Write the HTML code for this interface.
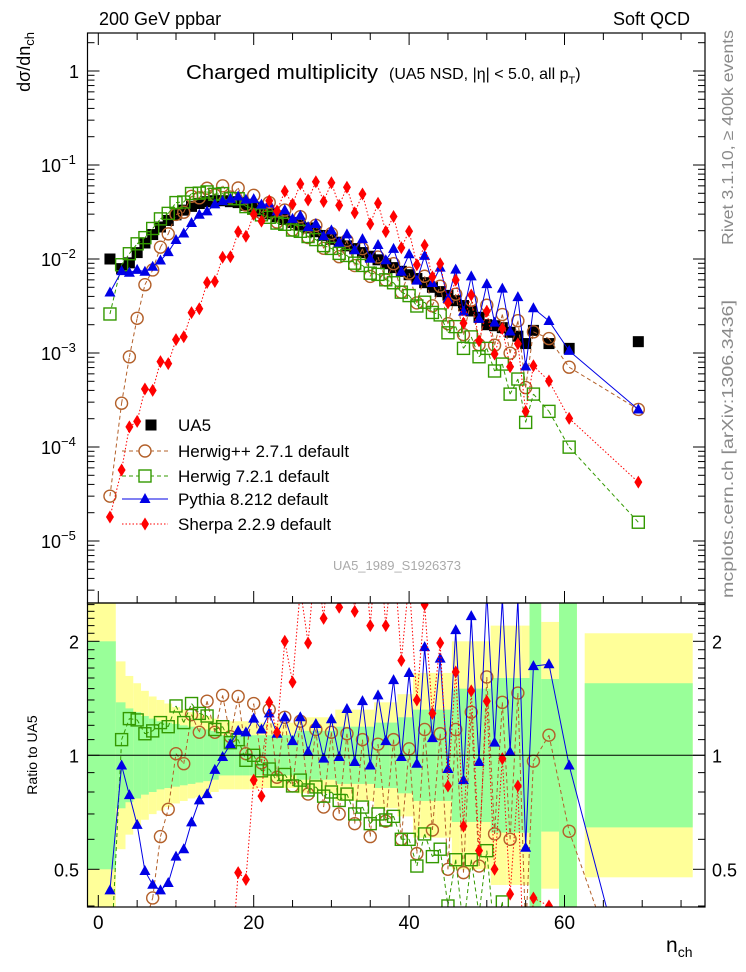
<!DOCTYPE html>
<html><head><meta charset="utf-8"><style>
html,body{margin:0;padding:0;background:#fff;width:746px;height:972px;overflow:hidden;}
svg{display:block;font-family:"Liberation Sans",sans-serif;}
</style></head><body>
<svg id="chart" width="746" height="972" viewBox="0 0 746 972" xmlns="http://www.w3.org/2000/svg">
<defs>
<clipPath id="clipMain"><rect x="87.5" y="33" width="617.5" height="570"/></clipPath>
<clipPath id="clipRatio"><rect x="87.5" y="603" width="617.5" height="304"/></clipPath>
</defs>
<g id="bands" clip-path="url(#clipRatio)"></g>
<g id="ticks"></g>
<g id="marksRatio" clip-path="url(#clipRatio)"></g>
<g id="marksMain" clip-path="url(#clipMain)"></g>
<rect x="87.5" y="33" width="617.5" height="570" fill="none" stroke="#000" stroke-width="1.2"/>
<rect x="87.5" y="603" width="617.5" height="304" fill="none" stroke="#000" stroke-width="1.2"/>
<line x1="87.5" x2="705" y1="755.3" y2="755.3" stroke="#000" stroke-width="1"/>
<text x="99" y="25" font-size="18">200 GeV ppbar</text>
<text x="690" y="25" font-size="18" text-anchor="end">Soft QCD</text>
<text x="186" y="79" font-size="20" textLength="192" lengthAdjust="spacingAndGlyphs">Charged multiplicity</text>
<text x="389" y="79" font-size="16">(UA5 NSD, |η| &lt; 5.0, all p<tspan font-size="11" dy="5">T</tspan><tspan dy="-5">)</tspan></text>
<text transform="translate(30,32) rotate(-90)" font-size="18" text-anchor="end">dσ/dn<tspan font-size="13" dy="4">ch</tspan></text>
<text transform="translate(37,755) rotate(-90)" font-size="14" text-anchor="middle">Ratio to UA5</text>
<text transform="translate(733,30) rotate(-90)" font-size="16" fill="#8a8a8a" text-anchor="end" textLength="215" lengthAdjust="spacingAndGlyphs">Rivet 3.1.10, ≥ 400k events</text>
<text transform="translate(733,598) rotate(-90)" font-size="16" fill="#8a8a8a" text-anchor="start" textLength="298" lengthAdjust="spacingAndGlyphs">mcplots.cern.ch [arXiv:1306.3436]</text>
<text x="397" y="570" font-size="13" fill="#aaa" text-anchor="middle">UA5_1989_S1926373</text>
<text x="666" y="952" font-size="21">n<tspan font-size="14" dy="5">ch</tspan></text>
<g id="legend"></g>
<script>
// ---------- data ----------
const nch = [1.5,3,4,5,6,7,8,9,10,11,12,13,14,15,16,17,18,19,20,21,22,23,24,25,26,27,28,29,30,31,32,33,34,35,36,37,38,39,40,41,42,43,44,45,46,47,48,49,50,51,52,53,54,55,56,58,60.6,69.5];
const ua5 = [1.0e-2,7.9e-3,9.1e-3,1.17e-2,1.48e-2,1.82e-2,2.19e-2,2.57e-2,2.95e-2,3.31e-2,3.63e-2,3.89e-2,4.07e-2,4.17e-2,4.17e-2,4.07e-2,3.98e-2,3.72e-2,3.47e-2,3.24e-2,3.02e-2,2.82e-2,2.63e-2,2.45e-2,2.29e-2,2.14e-2,1.95e-2,1.78e-2,1.62e-2,1.51e-2,1.38e-2,1.29e-2,1.17e-2,1.07e-2,9.8e-3,8.9e-3,8.1e-3,7.4e-3,6.8e-3,6.2e-3,5.6e-3,5.0e-3,4.5e-3,4.1e-3,3.6e-3,3.2e-3,2.8e-3,2.4e-3,2.0e-3,1.95e-3,1.86e-3,1.66e-3,1.51e-3,1.26e-3,1.74e-3,1.26e-3,1.12e-3,1.32e-3];
const ratioHerwigPP = [0.003,0.037,0.10,0.2,0.36,0.42,0.61,0.72,1.01,0.95,1.28,1.15,1.39,1.15,1.44,1.12,1.43,1.01,1.37,0.955,1.32,0.875,1.26,0.83,1.23,0.79,1.17,0.73,1.15,0.70,1.14,0.66,1.10,0.61,1.07,0.67,1.10,0.6,1.04,0.55,1.17,0.635,1.14,0.50,1.17,0.49,1.30,0.51,1.61,0.62,1.38,0.60,1.46,0.34,0.965,1.13,0.63,0.19];
const ratioHerwig7 = [0.26,1.10,1.25,1.24,1.14,1.16,1.22,1.19,1.35,1.22,1.37,1.29,1.27,1.17,1.19,1.08,1.10,0.97,1.0,0.91,0.92,0.855,0.89,0.83,0.86,0.81,0.825,0.78,0.80,0.76,0.79,0.70,0.73,0.66,0.70,0.675,0.69,0.60,0.60,0.51,0.62,0.54,0.565,0.40,0.53,0.35,0.53,0.38,0.56,0.33,0.41,0.22,0.35,0.145,0.21,0.19,0.089,0.012];
const ratioPythia = [0.44,0.94,0.785,0.655,0.495,0.455,0.44,0.46,0.54,0.565,0.665,0.76,0.79,0.915,0.99,1.07,1.16,1.15,1.25,1.17,1.29,1.14,1.26,1.09,1.26,1.02,1.21,0.98,1.245,0.99,1.325,0.96,1.39,0.94,1.44,1.09,1.58,0.99,1.65,0.95,1.93,1.11,1.8,0.92,2.14,0.86,2.33,0.96,2.7,1.08,2.6,1.02,2.6,0.57,1.72,1.74,0.94,0.19];
const ratioSherpa = [0.0018,0.0072,0.018,0.016,0.028,0.022,0.037,0.030,0.047,0.045,0.074,0.076,0.138,0.138,0.25,0.26,0.49,0.47,0.86,0.78,1.38,1.15,2.0,1.56,2.75,1.98,3.4,2.3,4.0,2.46,4.2,2.4,4.2,2.2,4.0,2.2,3.5,1.78,2.9,1.4,2.5,1.29,1.98,0.83,1.66,0.65,1.48,0.56,1.39,0.50,0.98,0.43,0.83,0.19,0.42,0.40,0.18,0.032];
const bandInner = [2.0,1.38,1.33,1.30,1.27,1.25,1.23,1.22,1.21,1.20,1.19,1.18,1.17,1.16,1.13,1.13,1.13,1.13,1.13,1.13,1.13,1.13,1.13,1.13,1.16,1.16,1.16,1.16,1.16,1.19,1.19,1.19,1.19,1.19,1.22,1.22,1.22,1.26,1.26,1.32,1.32,1.32,1.32,1.32,1.5,1.5,1.5,1.5,1.5,1.6,1.6,1.6,1.6,1.6,3,1.59,3,1.55];
const bandOuter = [2.6,1.77,1.62,1.55,1.48,1.43,1.40,1.37,1.34,1.32,1.30,1.29,1.27,1.25,1.23,1.23,1.23,1.23,1.23,1.22,1.22,1.22,1.22,1.22,1.26,1.26,1.26,1.26,1.26,1.32,1.32,1.32,1.32,1.32,1.38,1.38,1.38,1.45,1.45,1.65,1.65,1.65,1.65,1.65,2.0,2.0,2.0,2.0,2.0,2.2,2.2,2.2,2.2,2.2,3,2.25,3,2.1];
const xTickLabels = ["0","20","40","60"];
const ratioTickLabels = ["0.5","1","2"];

// ---------- axes ----------
const NS = "http://www.w3.org/2000/svg";
const X0 = 98.3, XS = 7.77;
const xs = n => X0 + XS * n;
const ym = v => 71 - 94 * Math.log10(v);
const yr = r => 755.3 - 114 * Math.log2(r);
const L = 87.5, R = 705, T = 33, MB = 603, RB = 907;

function mk(tag, parent, attrs) {
  const e = document.createElementNS(NS, tag);
  for (const k in attrs) e.setAttribute(k, attrs[k]);
  parent.appendChild(e);
  return e;
}
const svg = document.getElementById("chart");
const gT = document.getElementById("ticks");
const gB = document.getElementById("bands");
const gM = document.getElementById("marksMain");
const gR = document.getElementById("marksRatio");
const gL = document.getElementById("legend");

const last = nch.length - 1;
const edges = [];
for (let i = 0; i < nch.length; i++) {
  let lo = i === 0 ? -1.4 : (nch[i - 1] + nch[i]) / 2;
  let hi = i === last ? 76.5 : (nch[i] + nch[i + 1]) / 2;
  if (i === last) lo = 62.6;
  if (i === last - 1) hi = 61.6;
  edges.push([lo, hi]);
}
function band(arr, color, name, top, bot) {
  for (let i = 0; i < nch.length; i++) {
    const f = arr[i];
    const y1 = Math.max(top, yr(f)), y2 = Math.min(bot, yr(1 / f));
    const r = mk("rect", gB, {x: xs(edges[i][0]), y: y1, width: xs(edges[i][1]) - xs(edges[i][0]), height: y2 - y1, fill: color});
    
    
  }
}
band(bandOuter, "#ffff99", "band-outer", 603, 907);
band(bandInner, "#99ff99", "band-inner", 603, 907);

for (let n = 0; n <= 75; n += 5) {
  const x = xs(n), len = n % 20 === 0 ? 12 : 7;
  for (const [y0, d] of [[MB, -1], [T, 1], [RB, -1]]) {
    const t = mk("line", gT, {x1: x, x2: x, y1: y0, y2: y0 + d * len, stroke: "#000", "stroke-width": 1});
    
    
  }
}
xTickLabels.forEach((s, i) => {
  const t = mk("text", svg, {x: xs(i * 20), y: 929, "font-size": 19, "text-anchor": "middle"});
  t.textContent = s;
  
  
});
for (let d = -6; d <= 0; d++) {
  for (let m = 1; m <= 9; m++) {
    const v = m * Math.pow(10, d);
    const y = ym(v);
    if (y < T || y > MB) continue;
    const len = m === 1 ? 12 : 7;
    for (const [x0, s] of [[L, 1], [R, -1]]) {
      const t = mk("line", gT, {x1: x0, x2: x0 + s * len, y1: y, y2: y, stroke: "#000", "stroke-width": 1});
      
      
    }
  }
  const y = ym(Math.pow(10, d));
  if (y >= T && y <= MB) {
    const t = mk("text", svg, {x: d === 0 ? 79 : 63, y: y + 7, "font-size": 18, "text-anchor": "end"});
    
    
    if (d === 0) t.textContent = "1";
    else {
      t.textContent = "10";
      const s = mk("tspan", t, {"font-size": 13, dy: -8});
      s.textContent = "−" + (-d);
      t.setAttribute("text-anchor", "start");
      t.setAttribute("x", 41);
    }
  }
}
const rt = [0.4,0.5,0.6,0.7,0.8,0.9,1,1.1,1.2,1.3,1.4,1.5,1.6,1.7,1.8,1.9,2,2.1,2.2,2.3,2.4,2.5];
rt.forEach(r => {
  const y = yr(r);
  if (y < 603 || y > RB) return;
  const major = (r === 0.5 || r === 1 || r === 2);
  for (const [x0, s] of [[L, 1], [R, -1]]) {
    const t = mk("line", gT, {x1: x0, x2: x0 + s * (major ? 12 : 7), y1: y, y2: y, stroke: "#000", "stroke-width": 1});
    
    
  }
});
[0.5, 1, 2].forEach((r, i) => {
  for (const [x, a] of [[79, "end"], [712, "start"]]) {
    const t = mk("text", svg, {x: x, y: yr(r) + 7, "font-size": 18, "text-anchor": a});
    t.textContent = ratioTickLabels[i];
    
    
  }
});

// clip a segment to a vertical range [top, bot]; returns null if outside
function clipSeg(p, q, top, bot) {
  let [x1, y1] = p, [x2, y2] = q;
  let t0 = 0, t1 = 1;
  const dy = y2 - y1;
  if (dy === 0) { if (y1 < top || y1 > bot) return null; }
  else {
    let ta = (top - y1) / dy, tb = (bot - y1) / dy;
    if (ta > tb) [ta, tb] = [tb, ta];
    t0 = Math.max(t0, ta); t1 = Math.min(t1, tb);
    if (t0 > t1) return null;
  }
  return [[x1 + (x2 - x1) * t0, y1 + dy * t0], [x1 + (x2 - x1) * t1, y1 + dy * t1]];
}
function clippedPath(pts, top, bot) {
  let d = "";
  for (let i = 0; i < pts.length - 1; i++) {
    const s = clipSeg(pts[i], pts[i + 1], top, bot);
    if (s) d += `M${s[0][0].toFixed(2)},${s[0][1].toFixed(2)}L${s[1][0].toFixed(2)},${s[1][1].toFixed(2)}`;
  }
  return d;
}

function marker(g, type, x, y, color) {
  let e;
  if (type === "sqf") e = mk("rect", g, {x: x - 5.5, y: y - 5.5, width: 11, height: 11, fill: "#000"});
  else if (type === "circ") e = mk("circle", g, {cx: x, cy: y, r: 6, fill: "none", stroke: color, "stroke-width": 1.4});
  else if (type === "sqo") e = mk("rect", g, {x: x - 6, y: y - 6, width: 12, height: 12, fill: "none", stroke: color, "stroke-width": 1.4});
  else if (type === "tri") e = mk("path", g, {d: `M${x},${y - 6}L${x + 5.5},${y + 4}L${x - 5.5},${y + 4}Z`, fill: color});
  else e = mk("path", g, {d: `M${x},${y - 6.5}L${x + 4},${y}L${x},${y + 6.5}L${x - 4},${y}Z`, fill: color});
  return e;
}
const series = [
  {name: "herwigpp", ratio: ratioHerwigPP, color: "#b3602a", type: "circ", dash: "4,3", label: "Herwig++ 2.7.1 default"},
  {name: "herwig7", ratio: ratioHerwig7, color: "#339900", type: "sqo", dash: "4,3", label: "Herwig 7.2.1 default"},
  {name: "pythia", ratio: ratioPythia, color: "#0000e6", type: "tri", dash: "", label: "Pythia 8.212 default"},
  {name: "sherpa", ratio: ratioSherpa, color: "#ff0000", type: "dia", dash: "1.5,2", label: "Sherpa 2.2.9 default"}
];
ua5.forEach((v, i) => {
  const m = marker(gM, "sqf", xs(nch[i]), ym(v), "#000");
  
  
});
series.forEach(s => {
  const ptsM = nch.map((n, i) => [xs(n), ym(ua5[i] * s.ratio[i])]);
  const ptsR = nch.map((n, i) => [xs(n), yr(s.ratio[i])]);
  const attrs = {fill: "none", stroke: s.color, "stroke-width": 1};
  if (s.dash) attrs["stroke-dasharray"] = s.dash;
  const lm = mk("path", gM, Object.assign({d: clippedPath(ptsM, T, MB)}, attrs));
  
  
  const lr = mk("path", gR, Object.assign({d: clippedPath(ptsR, 603, RB)}, attrs));
  
  
  ptsM.forEach(p => {
    if (p[1] < T - 8 || p[1] > MB + 8) return;
    const m = marker(gM, s.type, p[0], p[1], s.color);
    
    
  });
  ptsR.forEach(p => {
    if (p[1] < 603 - 8 || p[1] > RB + 8) return;
    const m = marker(gR, s.type, p[0], p[1], s.color);
    
    
  });
});

const legY = [425, 451, 476, 499, 524];
const lu = marker(gL, "sqf", 151, legY[0], "#000");


const tu = mk("text", gL, {x: 178, y: legY[0] + 6, "font-size": 17});
tu.textContent = "UA5";


series.forEach((s, i) => {
  const y = legY[i + 1];
  const a = {x1: 122, x2: 168, y1: y, y2: y, stroke: s.color, "stroke-width": 1};
  if (s.dash) a["stroke-dasharray"] = s.dash;
  const l = mk("line", gL, a);
  
  
  const m = marker(gL, s.type, 145, y, s.color);
  if (s.type === "circ" || s.type === "sqo") m.setAttribute("fill", "#fff");
  
  
  const t = mk("text", gL, {x: 178, y: y + 6, "font-size": 17});
  t.textContent = s.label;
  
  
});
</script>
</svg>
</body></html>
